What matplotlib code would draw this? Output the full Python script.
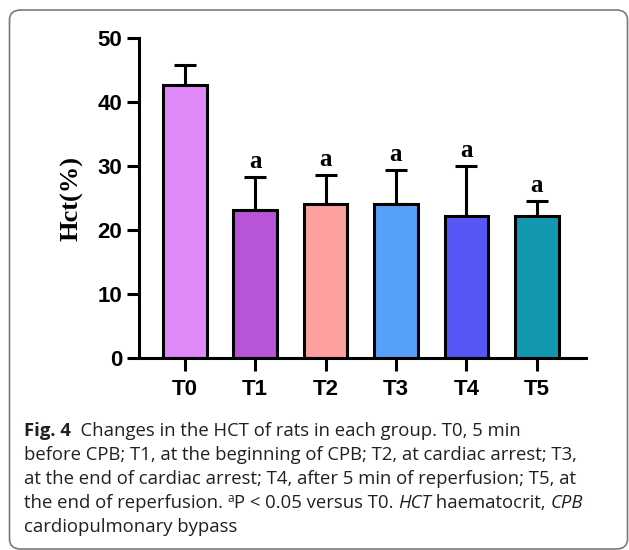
import matplotlib
matplotlib.use("Agg")
import matplotlib.pyplot as plt
from matplotlib.patches import FancyBboxPatch

# data
groups = ["T0", "T1", "T2", "T3", "T4", "T5"]
hct_mean = [42.7, 23.1, 24.1, 24.1, 22.3, 22.3]
hct_sd = [3.1, 5.2, 4.5, 5.3, 7.8, 2.3]
sig_marks = ["", "a", "a", "a", "a", "a"]
bar_colors = ["#DE89F7", "#B755D6", "#FCA0A0", "#56A0FB", "#5757F6", "#1398B1"]

caption_lines = [
    [("Fig. 4", "bold", "normal"), ("  Changes in the HCT of rats in each group. T0, 5 min", "normal", "normal")],
    [("before CPB; T1, at the beginning of CPB; T2, at cardiac arrest; T3,", "normal", "normal")],
    [("at the end of cardiac arrest; T4, after 5 min of reperfusion; T5, at", "normal", "normal")],
    [("the end of reperfusion. ", "normal", "normal"), ("a", "sup", "normal"),
     ("P < 0.05 versus T0. ", "normal", "normal"), ("HCT", "normal", "italic"),
     (" haematocrit, ", "normal", "normal"), ("CPB", "normal", "italic")],
    [("cardiopulmonary bypass", "normal", "normal")],
]

W, H = 629, 550
fig = plt.figure(figsize=(W / 100, H / 100), dpi=100)

# rounded frame around the figure + caption (bottom edge sits at the image border)
frame = FancyBboxPatch((9.5 / W, 1.0 / H), 618 / W, 539 / H,
                       boxstyle="round,pad=0,rounding_size=0.018",
                       transform=fig.transFigure, fill=False,
                       edgecolor="#7a7a7a", linewidth=1.2)
fig.patches.append(frame)

ax = fig.add_axes([139 / W, (H - 358.3) / H, 447 / W, 320 / H])
x = list(range(len(groups)))
ax.bar(x, hct_mean, width=0.62, color=bar_colors, edgecolor="black",
       linewidth=2.2, zorder=2)
ax.errorbar(x, hct_mean, yerr=[[0] * len(x), hct_sd], fmt="none",
            ecolor="black", elinewidth=2.2, capsize=8, capthick=2.2, zorder=1)
for xi, m, s, lab in zip(x, hct_mean, hct_sd, sig_marks):
    if lab:
        ax.text(xi, m + s + 0.6, lab, ha="center", va="bottom",
                fontsize=18, fontweight="bold", family="Liberation Serif")

ax.set_xlim(-0.65, 5.7)
ax.set_ylim(0, 50)
ax.set_yticks([0, 10, 20, 30, 40, 50])
ax.set_xticks(x)
ax.set_xticklabels(groups)
for side in ["top", "right"]:
    ax.spines[side].set_visible(False)
for side in ["left", "bottom"]:
    ax.spines[side].set_linewidth(2.2)
ax.tick_params(axis="both", width=2.2, length=9, direction="out")
ax.tick_params(axis="y", pad=3)
ax.tick_params(axis="x", pad=6)
for lab in ax.get_xticklabels() + ax.get_yticklabels():
    lab.set_fontfamily("Liberation Sans")
    lab.set_fontweight("bold")
    lab.set_fontsize(16)
ax.set_ylabel("Hct(%)", fontsize=19, fontweight="bold",
              family="Liberation Serif", labelpad=10)

# caption, drawn piece by piece so bold/italic/superscript can mix
renderer = fig.canvas.get_renderer()
cap_size = 13.3
baselines = [436, 460, 484, 508, 532]
for line, yb in zip(caption_lines, baselines):
    xpos = 24
    for txt, kind, style in line:
        size = cap_size * 0.65 if kind == "sup" else cap_size
        dy = 6 if kind == "sup" else 0
        t = fig.text(xpos / W, (H - yb + dy) / H, txt, fontsize=size,
                     family="Open Sans", fontstyle=style,
                     fontweight="bold" if kind == "bold" else "normal",
                     color="#231f20", va="baseline", ha="left")
        bb = t.get_window_extent(renderer)
        xpos += bb.width

fig.savefig("out.png", dpi=100)
